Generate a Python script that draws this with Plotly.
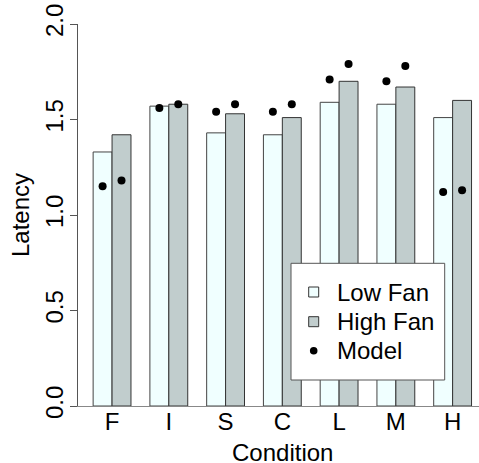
import plotly.graph_objects as go

conditions = ["F", "I", "S", "C", "L", "M", "H"]
low_fan = [1.33, 1.57, 1.43, 1.42, 1.59, 1.58, 1.51]
high_fan = [1.42, 1.58, 1.53, 1.51, 1.70, 1.67, 1.60]
model_low = [1.15, 1.56, 1.54, 1.54, 1.71, 1.70, 1.12]
model_high = [1.18, 1.58, 1.58, 1.58, 1.79, 1.78, 1.13]
y_ticks = [0.0, 0.5, 1.0, 1.5, 2.0]
y_ticktext = ["0.0", "0.5", "1.0", "1.5", "2.0"]

# R barplot-style positions: groups of two unit-width bars with one unit gap
centers = [2 + 3 * i for i in range(len(conditions))]
x_low = [c - 0.5 for c in centers]
x_high = [c + 0.5 for c in centers]

FONT = "Liberation Sans, Arial, sans-serif"
FS = 24
W, H = 479, 463
ML, MR, MT, MB = 78, 0, 24, 57

fig = go.Figure()
fig.add_trace(go.Bar(x=x_low, y=low_fan, width=1, name="Low Fan",
                     marker=dict(color="#F0FFFF", line=dict(color="#444444", width=1)),
                     showlegend=False))
fig.add_trace(go.Bar(x=x_high, y=high_fan, width=1, name="High Fan",
                     marker=dict(color="#C1CDCD", line=dict(color="#333333", width=1)),
                     showlegend=False))
fig.add_trace(go.Scatter(x=x_low + x_high, y=model_low + model_high, mode="markers",
                         name="Model", marker=dict(color="black", size=8),
                         showlegend=False))

# manual legend (pixel layout -> paper coordinates)
pw, ph = W - ML - MR, H - MT - MB
def px(x):
    return (x - ML) / pw
def py(y):
    return (H - MB - y) / ph

shapes = [dict(type="rect", xref="paper", yref="paper", x0=px(291), x1=px(444.7),
               y0=py(380), y1=py(263.3), fillcolor="white",
               line=dict(color="#555555", width=1), layer="above")]
keys = [("Low Fan", 292, "#F0FFFF", "square"),
        ("High Fan", 321.7, "#C1CDCD", "square"),
        ("Model", 350.7, "black", "circle")]
annotations = []
for label, yc, col, kind in keys:
    if kind == "square":
        shapes.append(dict(type="rect", xref="paper", yref="paper",
                           xsizemode="pixel", ysizemode="pixel",
                           xanchor=px(313.7), yanchor=py(yc),
                           x0=-5, x1=5, y0=-5, y1=5, fillcolor=col,
                           line=dict(color="#333333", width=1), layer="above"))
    else:
        shapes.append(dict(type="circle", xref="paper", yref="paper",
                           xsizemode="pixel", ysizemode="pixel",
                           xanchor=px(313.7), yanchor=py(yc),
                           x0=-3.8, x1=3.8, y0=-3.8, y1=3.8, fillcolor=col,
                           line=dict(color="black", width=0), layer="above"))
    annotations.append(dict(text=label, xref="paper", yref="paper", x=px(335), y=py(yc),
                            xanchor="left", yanchor="middle", showarrow=False,
                            font=dict(family=FONT, size=FS, color="black")))

annotations.append(dict(text="Condition", xref="x", yref="paper", x=11.0, y=py(452),
                        xanchor="center", yanchor="middle", showarrow=False,
                        font=dict(family=FONT, size=FS, color="black")))

fig.update_layout(
    width=W, height=H,
    margin=dict(l=ML, r=MR, t=MT, b=MB, pad=0, autoexpand=False),
    paper_bgcolor="white", plot_bgcolor="white",
    barmode="overlay",
    shapes=shapes, annotations=annotations,
    font=dict(family=FONT, size=FS, color="black"),
    xaxis=dict(range=[0.2, 0.2 + (W - ML) / 18.92], showgrid=False, zeroline=False,
               automargin=False,
               tickvals=centers, ticktext=conditions, ticks="",
               ticklabelstandoff=-6,
               showline=True, linecolor="#888888", linewidth=1,
               tickfont=dict(family=FONT, size=FS, color="black")),
    yaxis=dict(range=[0, 2], showgrid=False, zeroline=False, automargin=False,
               tickvals=y_ticks, ticktext=y_ticktext, ticks="outside", ticklen=7,
               ticklabelstandoff=-3,
               tickcolor="#555555", showline=True, linecolor="#555555", linewidth=1,
               tickangle=-90,
               tickfont=dict(family=FONT, size=FS, color="black"),
               title=dict(text="Latency", standoff=5,
                          font=dict(family=FONT, size=FS, color="black"))),
)

fig.write_html("out.html", config={"displayModeBar": False},
               post_script="document.body.style.margin='0';document.body.style.padding='0';")
